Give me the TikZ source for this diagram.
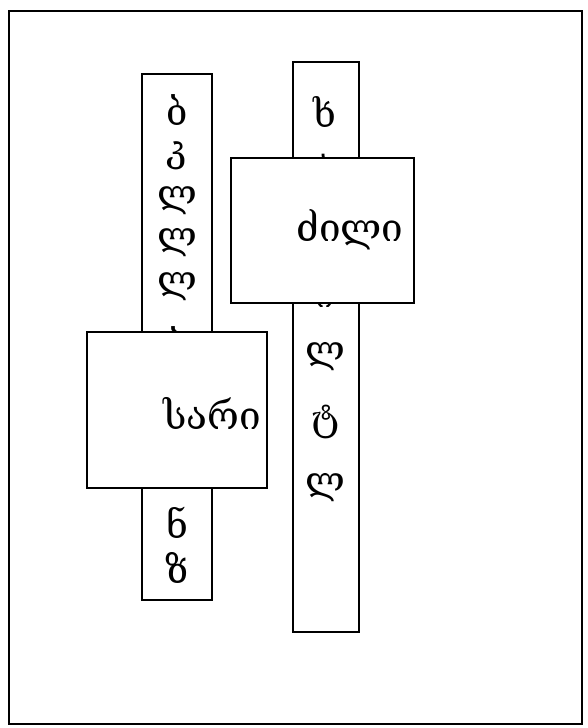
\documentclass[tikz,border=0pt]{standalone}
\usepackage{fontspec}
\setmainfont{DejaVu Serif}
\begin{document}
\begin{tikzpicture}[x=0.75pt,y=-0.75pt,
  frame/.style={draw=black,line width=2pt},
  strip/.style={draw=black,line width=1.9pt,fill=white},
  wbox/.style={draw=black,line width=2pt,fill=white},
  glyph/.style={inner sep=0pt,font=\fontsize{28}{30}\selectfont},
  word/.style={inner sep=0pt,font=\fontsize{29}{31}\selectfont}]
\useasboundingbox (0,0) rectangle (588,728);
\fill[white] (0,0) rectangle (588,728);
\draw[frame] (9,11) rectangle (582,724);
% strips
\draw[strip] (142,74) rectangle (212,600);
\draw[strip] (293,62) rectangle (359,632);
% left strip letters
\node[glyph] (l1) at (177,110) {ბ};
\node[glyph] (l2) at (177,156) {კ};
\node[glyph] (l3) at (177,201) {ლ};
\node[glyph] (l4) at (177,243) {ლ};
\node[glyph] (l5) at (177,287) {ლ};
\node[glyph] (l6) at (177,342) {ბ};
\node[glyph] (l7) at (177,523) {ნ};
\node[glyph] (l8) at (177,568) {ზ};
% right strip letters
\node[glyph] (r1) at (325,112) {ხ};
\node[glyph] (r2) at (325,165) {ა};
\node[glyph] (r3) at (325,298) {ი};
\node[glyph] (r4) at (325,357) {ლ};
\node[glyph] (r5) at (325,422) {ტ};
\node[glyph] (r6) at (325,488) {ლ};
% boxes
\draw[wbox] (231,158) rectangle (414,303);
\node[word] (w1) at (350,230) {ძილი};
\draw[wbox] (87,332) rectangle (267,488);
\node[word] (w2) at (212,413) {სარი};
\end{tikzpicture}
\end{document}
